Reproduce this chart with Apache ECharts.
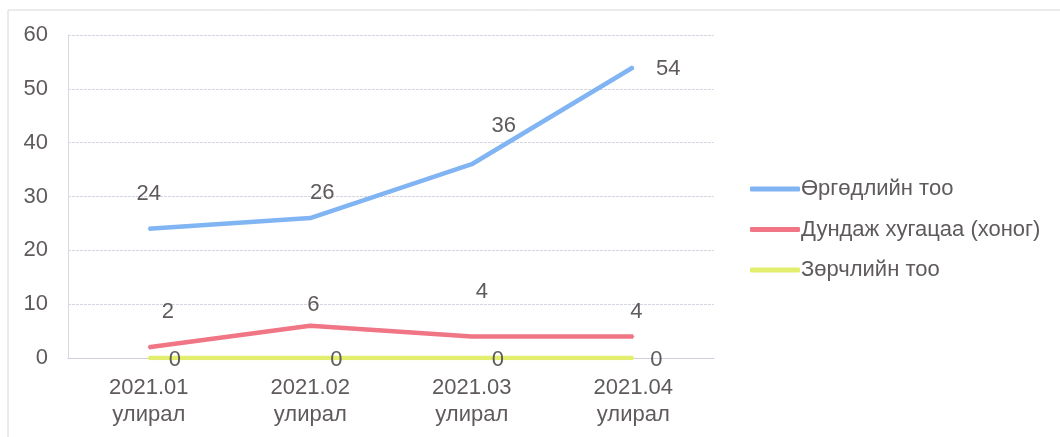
<!DOCTYPE html>
<html><head><meta charset="utf-8">
<script src="https://cdn.jsdelivr.net/npm/echarts@6/dist/echarts.min.js"></script>
<style>html,body{margin:0;padding:0;background:#fff}#c{width:1060px;height:437px}</style>
</head><body><div id="c"></div>
<script>
const categories = ['2021.01\nулирал', '2021.02\nулирал', '2021.03\nулирал', '2021.04\nулирал'];
const seriesNames = ['Өргөдлийн тоо', 'Дундаж хугацаа (хоног)', 'Зөрчлийн тоо'];
const petitions = [24, 26, 36, 54];
const avgDays = [2, 6, 4, 4];
const violations = [0, 0, 0, 0];
const yTicks = [0, 10, 20, 30, 40, 50, 60];

// label offsets (style only)
const blueOff = [[0, -35], [12, -25], [32, -38], [35, 2]];
const redOff = [[19, -35], [3, -21], [10, -45], [3, -25]];
const yelOff = [[26, 2], [26, 2], [26, 2], [23, 2]];

const txt = '#5f5a5c';
const FS = 22;
const colors = ['#80b4f2', '#f07585', '#e3ee6e'];
function withLabels(vals, offs) {
  return vals.map((v, i) => ({ value: v, label: { offset: offs[i] } }));
}
function mk(idx, vals, offs) {
  return {
    name: seriesNames[idx], type: 'line', data: withLabels(vals, offs),
    symbol: 'circle', symbolSize: 2, showSymbol: true,
    lineStyle: { color: colors[idx], width: 4.5 }, itemStyle: { color: colors[idx] },
    label: { show: true, position: 'inside', fontSize: FS, color: txt }
  };
}
const chart = echarts.init(document.getElementById('c'));
chart.setOption({
  animation: false,
  textStyle: { fontFamily: 'Liberation Sans, Arial, sans-serif' },
  graphic: [{ type: 'rect', shape: { x: 8, y: 10, width: 1060, height: 440 }, style: { fill: 'none', stroke: '#d8d8d8', lineWidth: 1 } }],
  grid: { left: 68, right: 346, top: 35, bottom: 79 },
  legend: {
    orient: 'vertical', left: 745, top: 173, itemGap: 18.5, itemWidth: 50, itemHeight: 5,
    icon: 'roundRect',
    textStyle: { fontSize: FS, color: txt, padding: [0, 0, 0, -4] },
    data: seriesNames
  },
  xAxis: {
    type: 'category', data: categories, boundaryGap: true,
    axisLine: { lineStyle: { color: '#d0d0dc', width: 1 } },
    axisTick: { show: false },
    axisLabel: { fontSize: FS, color: txt, lineHeight: 27, margin: 16 }
  },
  yAxis: {
    type: 'value', min: yTicks[0], max: yTicks[yTicks.length - 1], interval: 10,
    axisLine: { show: true, lineStyle: { color: '#d8d8e0' } },
    axisTick: { show: false },
    axisLabel: { fontSize: FS, color: txt, margin: 20 },
    splitLine: { lineStyle: { color: '#d6d6e2', type: [3, 1] } }
  },
  series: [mk(0, petitions, blueOff), mk(1, avgDays, redOff), mk(2, violations, yelOff)]
});
</script></body></html>
